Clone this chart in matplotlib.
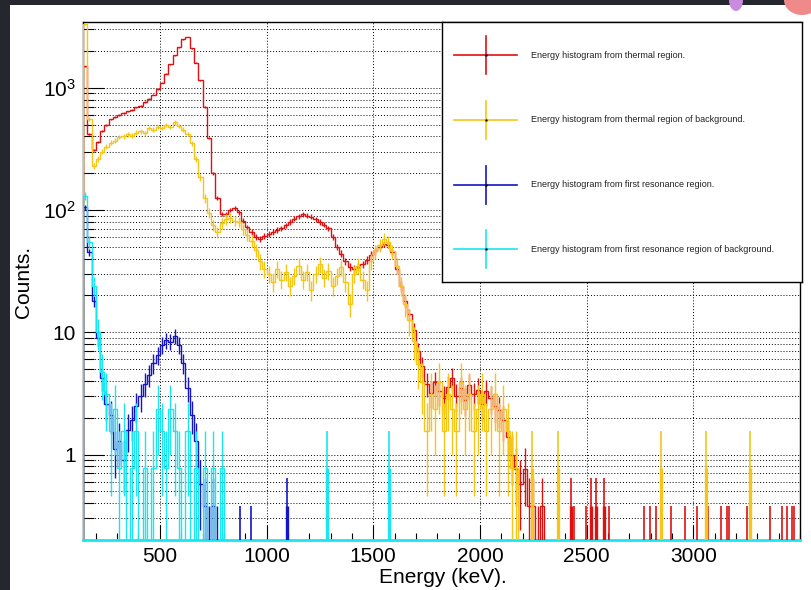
import numpy as np
import matplotlib.pyplot as plt
from matplotlib.patches import Rectangle, Ellipse
from matplotlib.ticker import MultipleLocator, LogLocator, NullFormatter

plt.rcParams['font.family'] = ['Liberation Sans', 'DejaVu Sans']
plt.rcParams['mathtext.fontset'] = 'custom'
plt.rcParams['mathtext.rm'] = 'Liberation Sans'

# histograms: 20 keV bins starting at 140 keV
bin_start = 140
bin_width = 20

red_counts = [1500, 420, 310, 360, 440, 500, 550, 580, 600, 620,
              640, 660, 690, 710, 760, 810, 880, 980, 1100, 1300,
              1550, 1850, 2150, 2500, 2600, 2100, 1600, 1150, 700, 390,
              200, 125, 93, 92, 100, 104, 96, 82, 72, 66,
              60, 58, 61, 64, 66, 69, 71, 75, 80, 85,
              89, 92, 90, 88, 84, 80, 76, 71, 60, 50,
              44, 38, 34, 33, 34, 36, 39, 43, 46, 50,
              53, 52, 45, 33, 24, 18, 14, 10.5, 7, 5.3,
              3.8, 3.2, 3.9, 3.3, 2.9, 3.6, 4.2, 3.0, 3.5, 2.8,
              3.7, 3.1, 3.4, 2.6, 3.3, 2.9, 2.5, 2.3, 1.9, 1.4,
              1.0, 0.76, 0.57, 0.76, 0.38, 0.38, 0.19, 0.38]

yellow_counts = [3300, 560, 230, 260, 300, 330, 355, 370, 395, 400,
                 415, 405, 430, 440, 425, 470, 455, 480, 470, 495,
                 480, 520, 490, 455, 420, 350, 260, 185, 125, 95,
                 75, 66, 78, 84, 86, 82, 80, 70, 63, 56,
                 47, 38, 33, 30, 26, 33, 27, 31, 24, 29,
                 35, 27, 31, 22, 30, 36, 28, 32, 24, 29,
                 34, 26, 17, 30, 35, 27, 22, 38, 46, 52,
                 58, 55, 46, 35, 24, 17, 12.5, 8.5, 5.5, 3.9,
                 1.56, 3.1, 2.34, 3.9, 1.56, 3.1, 2.34, 1.56, 3.9, 2.34,
                 3.1, 1.56, 2.34, 3.1, 1.56, 2.34, 3.1, 1.56, 2.34, 1.56,
                 0.78, 0.78, 0]

blue_counts = [105, 45, 18, 9.0, 4.2, 2.6, 2.1, 1.1, 1.3, 0.9,
               1.6, 1.9, 2.5, 3.0, 3.8, 4.5, 5.6, 6.5, 7.9, 8.6,
               8.4, 9.3, 7.9, 5.6, 3.5, 2.1, 1.3, 0.57, 0.38, 0.19,
               0.38, 0.19, 0.19]

cyan_counts = [130, 55, 24, 10, 4.7, 3.1, 1.56, 2.34, 0.78, 1.56,
               0, 0.78, 1.56, 0, 0.78, 0, 0.78, 2.34, 1.56, 0.78,
               2.34, 1.56, 0.78, 0, 1.56, 0, 0.78, 0, 0.78, 0,
               0.78, 0, 0.78]

# isolated single-bin entries further out (energy keV, counts)
red_spike_E = [2429, 2443, 2499, 2522, 2546, 2583, 2607, 2771, 2799, 2827, 2897, 2963,
               3019, 3070, 3131, 3159, 3168, 3253, 3360, 3417, 3440, 3463, 3473]
red_spike_val = [0.38, 0.19, 0.19, 0.38, 0.38, 0.38, 0.19, 0.19, 0.19, 0.19, 0.19, 0.19,
                 0.19, 0.19, 0.19, 0.19, 0.19, 0.19, 0.19, 0.19, 0.19, 0.19, 0.19]
yellow_spike_E = [2242, 2368, 2850, 3061, 3267]
yellow_spike_val = [0.78, 0.78, 0.78, 0.78, 0.78]
blue_spike_E = [875, 926, 1095, 1287]
blue_spike_val = [0.19, 0.19, 0.38, 0.19]
cyan_spike_E = [1283, 1575]
cyan_spike_val = [0.78, 0.78]

# per-event weights (single entry height), used for the error bars
red_w, yellow_w, blue_w, cyan_w = 0.19, 0.78, 0.19, 0.78

labels = ["Energy histogram from thermal region.",
          "Energy histogram from thermal region of background.",
          "Energy histogram from first resonance region.",
          "Energy histogram from first resonance region of background."]
colors = ['#e01010', '#f5c518', '#1414c8', '#19e6f0']


def draw_hist(ax, vals, w, color):
    vals = np.asarray(vals, float)
    edges = bin_start + bin_width * np.arange(len(vals) + 1)
    ax.stairs(vals, edges, color=color, lw=1.0, zorder=3)
    centers = edges[:-1] + bin_width / 2
    m = vals > 0
    ax.errorbar(centers[m], vals[m], yerr=np.sqrt(vals[m] * w), fmt='none',
                ecolor=color, elinewidth=1.0, zorder=3)


def draw_spikes(ax, E, vals, w, color):
    E = np.asarray(E, float)
    vals = np.asarray(vals, float)
    ax.vlines(E, 1e-3, vals, color=color, lw=2.4, zorder=3)
    ax.errorbar(E, vals, yerr=np.sqrt(vals * w), fmt='none',
                ecolor=color, elinewidth=1.2, zorder=3)


fig = plt.figure(figsize=(8.11, 5.90), dpi=100)
fig.patch.set_facecolor('#24272e')
fig.add_artist(Rectangle((10 / 811, 0), 1 - 10 / 811, 1 - 5 / 590, transform=fig.transFigure,
                         facecolor='white', edgecolor='none', zorder=-1))
fig.add_artist(Ellipse((736 / 811, 1), 14 / 811, 22 / 590, transform=fig.transFigure,
                       facecolor='#c98be0', edgecolor='none', zorder=5))
fig.add_artist(Ellipse((802 / 811, 1), 36 / 811, 30 / 590, transform=fig.transFigure,
                       facecolor='#f08a8a', edgecolor='none', zorder=5))

ax = fig.add_axes([83 / 811, 50 / 590, 717 / 811, 518 / 590])
ax.set_yscale('log')

draw_hist(ax, red_counts, red_w, colors[0])
draw_hist(ax, yellow_counts, yellow_w, colors[1])
draw_hist(ax, blue_counts, blue_w, colors[2])
draw_hist(ax, cyan_counts, cyan_w, colors[3])
draw_spikes(ax, red_spike_E, red_spike_val, red_w, colors[0])
draw_spikes(ax, yellow_spike_E, yellow_spike_val, yellow_w, colors[1])
draw_spikes(ax, blue_spike_E, blue_spike_val, blue_w, colors[2])
draw_spikes(ax, cyan_spike_E, cyan_spike_val, cyan_w, colors[3])

ax.set_xlim(140, 3500)
ax.set_ylim(0.2, 3450)

ax.set_xticks([500, 1000, 1500, 2000, 2500, 3000])
ax.xaxis.set_minor_locator(MultipleLocator(100))
ax.set_yticks([1, 10, 100, 1000], labels=['1', '10', r'$\mathregular{10^{2}}$', r'$\mathregular{10^{3}}$'])
ax.yaxis.set_minor_locator(LogLocator(base=10, subs=np.arange(2, 10)))
ax.yaxis.set_minor_formatter(NullFormatter())

ax.tick_params(axis='x', which='major', direction='in', length=11, width=0.8, labelsize=15, pad=5)
ax.tick_params(axis='x', which='minor', direction='in', length=5, width=0.8)
ax.tick_params(axis='y', which='major', direction='in', length=15, width=0.8, labelsize=15, pad=5)
ax.tick_params(axis='y', which='minor', direction='in', length=8, width=0.8)

ax.grid(True, which='major', axis='x', ls=(0, (1, 2)), color='k', lw=0.7)
ax.grid(True, which='both', axis='y', ls=(0, (1, 2)), color='k', lw=0.7)
ax.set_axisbelow(True)
for s in ax.spines.values():
    s.set_linewidth(1.0)
ax.spines['bottom'].set_color(colors[3])
ax.spines['bottom'].set_linewidth(2)

fig.text(443 / 811, 7 / 590, 'Energy (keV).', fontsize=15, ha='center', va='baseline')
fig.text(23 / 811, 1 - 282 / 590, 'Counts.', fontsize=15, rotation=90, ha='center', va='center')

# legend box drawn in its own pixel-scaled axes
lax = fig.add_axes([442 / 811, (590 - 282) / 590, 360 / 811, 260 / 590])
lax.set_xlim(0, 360)
lax.set_ylim(260, 0)
lax.set_xticks([])
lax.set_yticks([])
for s in lax.spines.values():
    s.set_linewidth(1.0)
for i, (lab, c) in enumerate(zip(labels, colors)):
    yc = 33 + 64.8 * i
    lax.plot([12, 75], [yc, yc], color=c, lw=1.2)
    lax.plot([44, 44], [yc - 19, yc + 19], color=c, lw=1.2)
    lax.plot([44], [yc], marker='.', ms=1.5, color='k')
    lax.text(89, yc, lab, fontsize=6.5, va='center', color='#222222')

fig.savefig('out.png', dpi=100, facecolor=fig.get_facecolor())
